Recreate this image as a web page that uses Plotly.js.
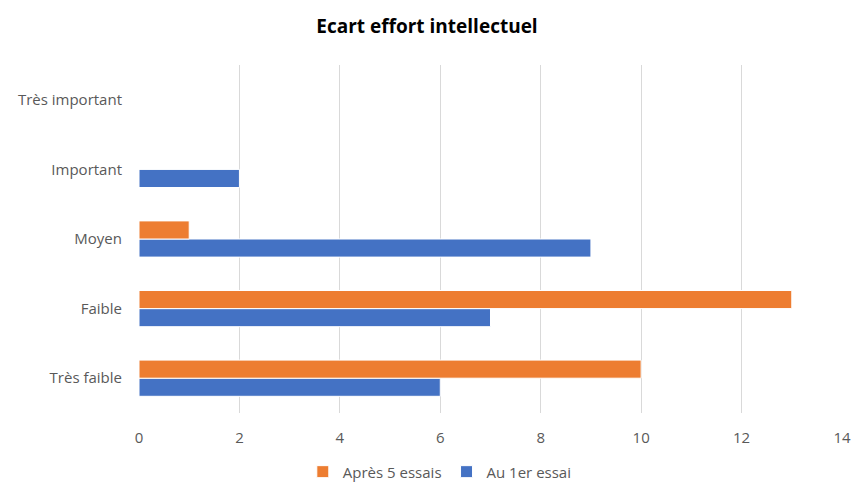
<!DOCTYPE html>
<html>
<head>
<meta charset="utf-8">
<script src="https://cdn.plot.ly/plotly-3.0.1.min.js"></script>
<style>html,body{margin:0;padding:0;background:#fff;}#chart{width:854px;height:484px;}</style>
</head>
<body>
<div id="chart"></div>
<script>
const categories = ["Très faible", "Faible", "Moyen", "Important", "Très important"];
const apres5 = [10, 13, 1, 0, 0];
const au1er = [6, 7, 9, 2, 0];
const xTicks = [0, 2, 4, 6, 8, 10, 12, 14];

const traces = [
  {type: 'bar', orientation: 'h', name: 'Au 1er essai', y: categories, x: au1er,
   marker: {color: '#4472C4', line: {color: '#ffffff', width: 1}}, legendrank: 2},
  {type: 'bar', orientation: 'h', name: 'Après 5 essais', y: categories, x: apres5,
   marker: {color: '#ED7D31', line: {color: '#ffffff', width: 1}}, legendrank: 1}
];

const layout = {
  width: 854, height: 484,
  margin: {l: 139, r: 12, t: 65, b: 71, autoexpand: false},
  paper_bgcolor: '#fff', plot_bgcolor: '#fff',
  font: {family: 'Open Sans, sans-serif', color: '#595959', size: 15},
  title: {text: '<b>Ecart effort intellectuel</b>', x: 0.5, xanchor: 'center', yref: 'container', y: 0.945, yanchor: 'middle',
          font: {family: 'Open Sans, sans-serif', size: 19, color: '#000'}},
  barmode: 'group', bargap: 0.48, bargroupgap: 0,
  xaxis: {range: [0, 14], tickvals: xTicks, ticktext: xTicks.map(String), showgrid: true, gridcolor: '#d9d9d9',
          zeroline: false, showline: false, ticks: '', ticklen: 0, ticklabelstandoff: 14,
          tickfont: {size: 15, color: '#595959'}, fixedrange: true, automargin: false},
  yaxis: {type: 'category', categoryorder: 'array', categoryarray: categories, showgrid: false, zeroline: false,
          showline: false, ticks: '', ticklabelstandoff: 16, tickfont: {size: 15, color: '#595959'}, automargin: false},
  showlegend: true,
  legend: {orientation: 'h', xref: 'container', x: 0.515, xanchor: 'center', yref: 'container', y: 0.025, yanchor: 'middle',
           font: {size: 15, color: '#595959'}, itemwidth: 30, tracegroupgap: 0}
};

Plotly.newPlot('chart', traces, layout, {displayModeBar: false, staticPlot: true});
</script>
</body>
</html>
